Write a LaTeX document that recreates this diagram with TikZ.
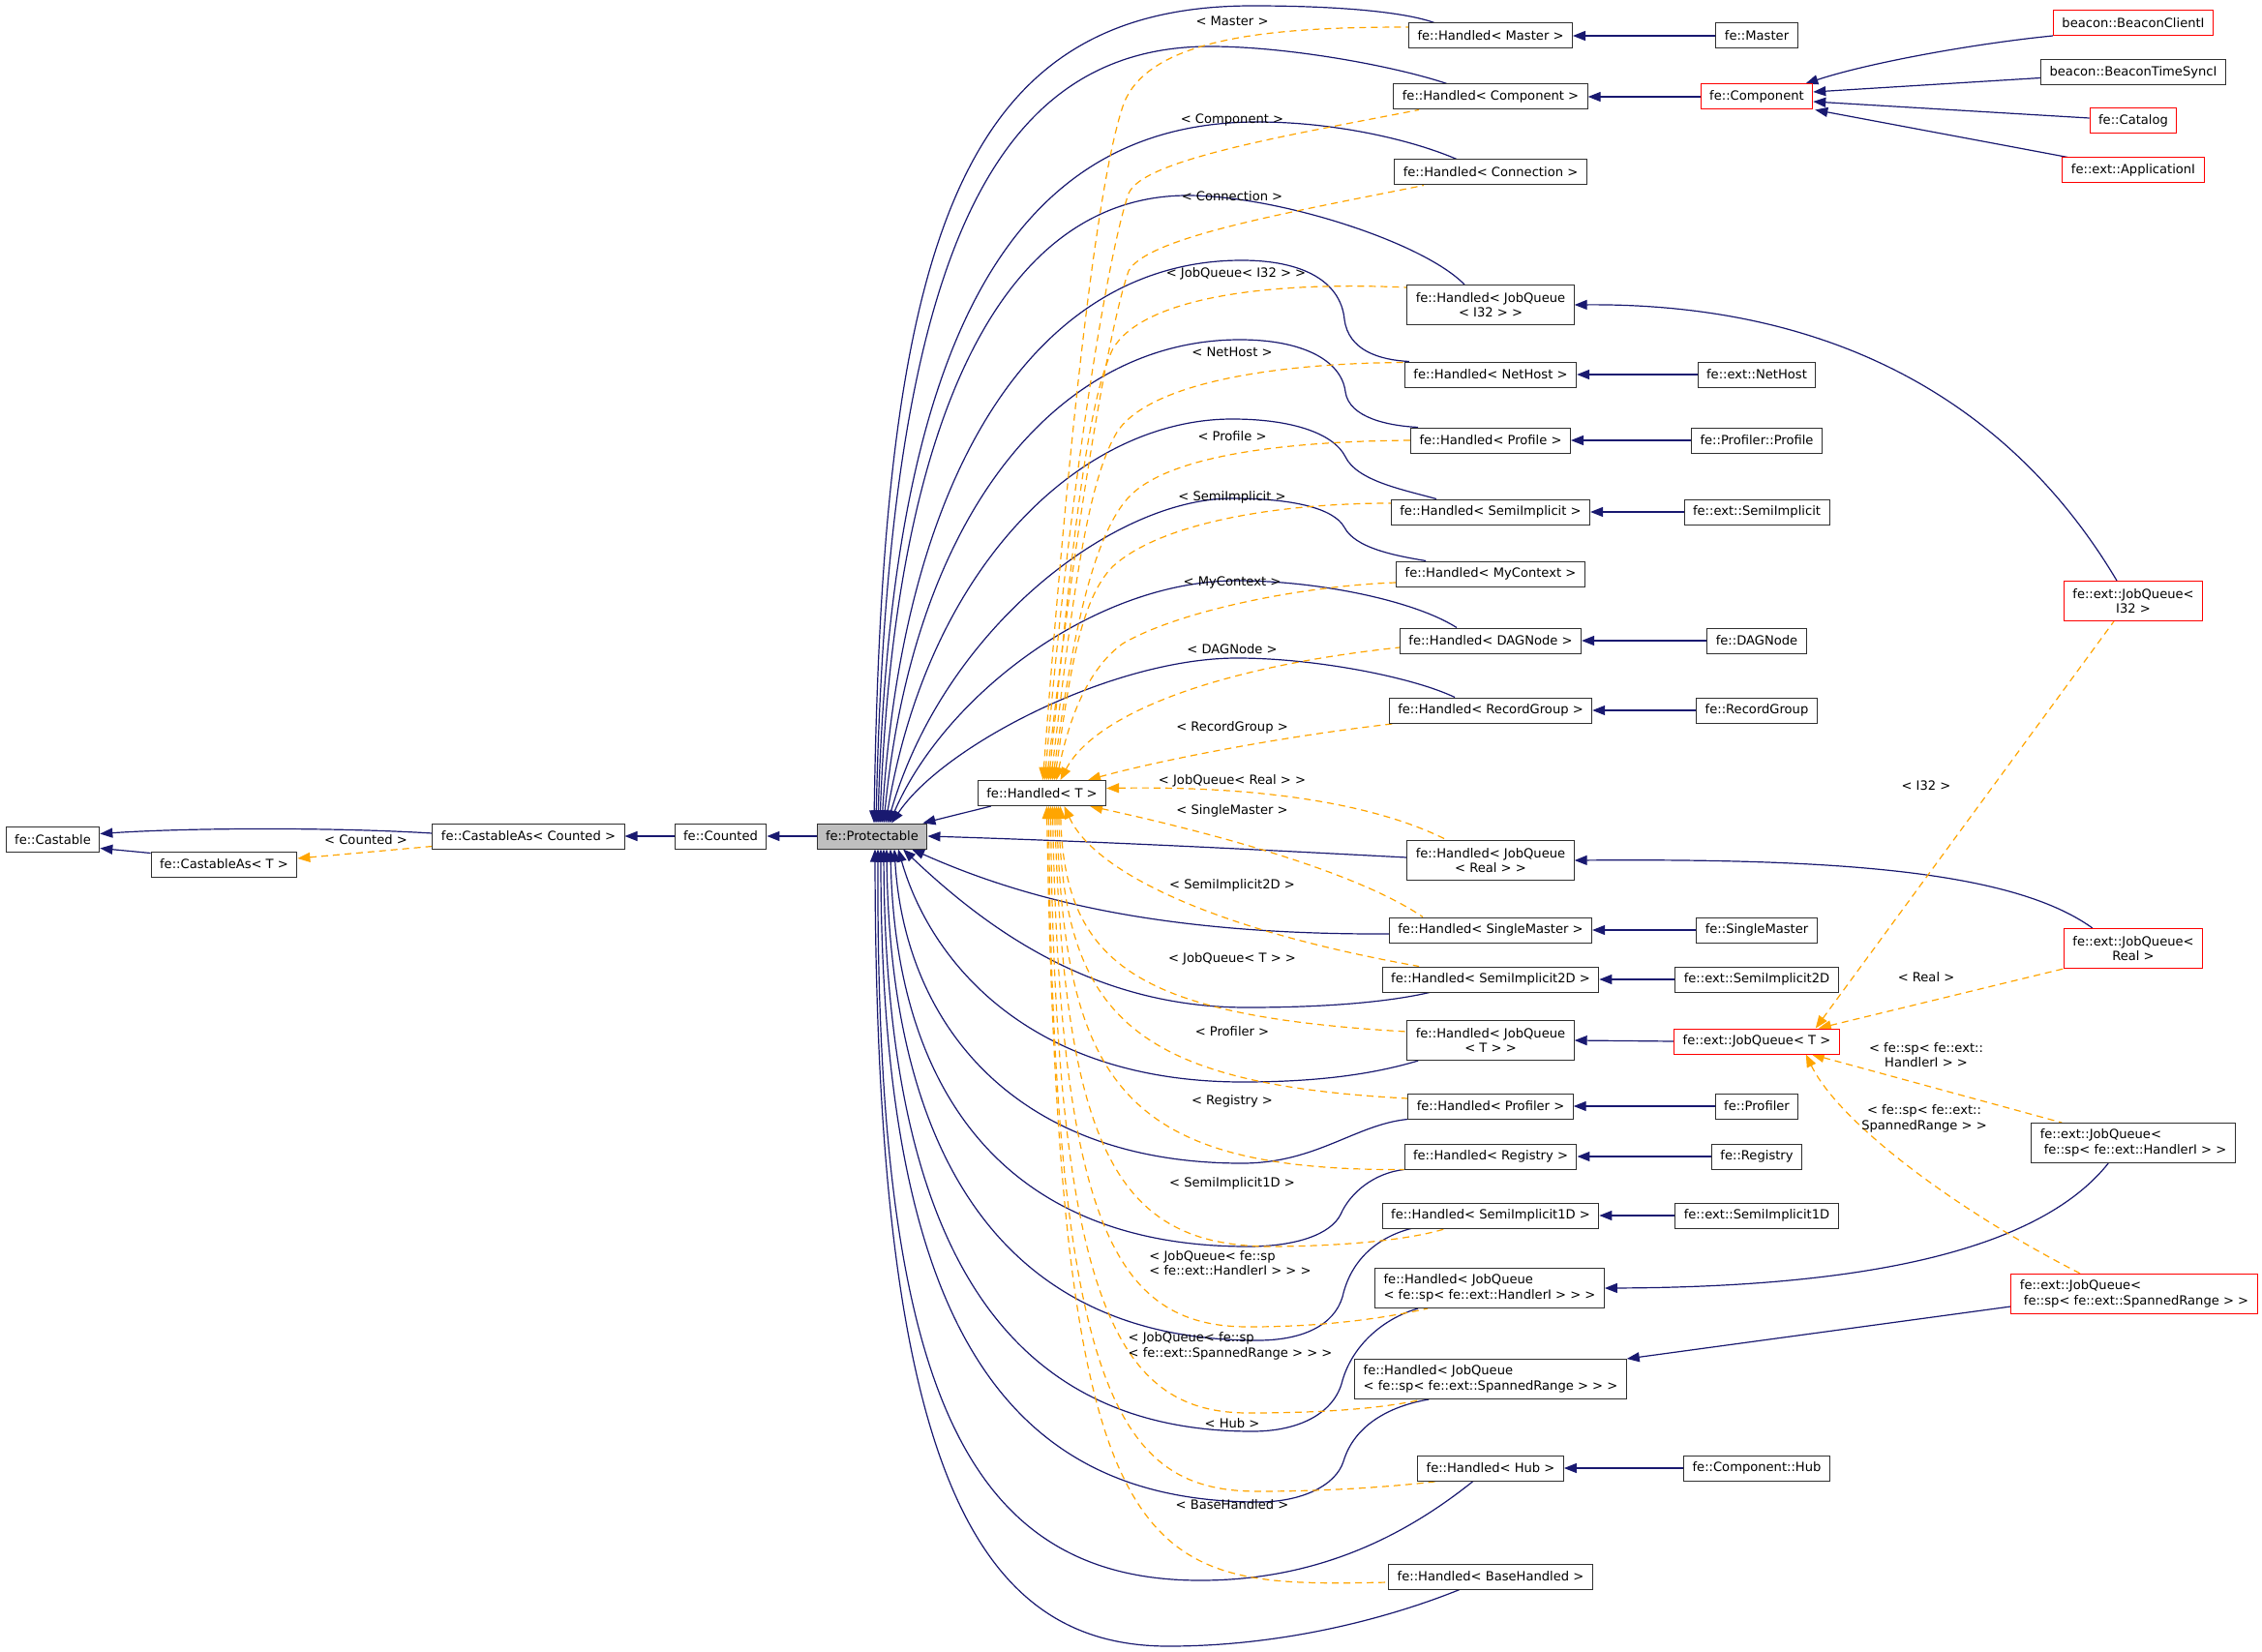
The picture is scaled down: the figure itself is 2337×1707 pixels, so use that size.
\documentclass[tikz,border=0pt]{standalone}
\usepackage{fontspec}
\setmainfont{DejaVu Sans}
\usetikzlibrary{arrows.meta}
\definecolor{edgeblue}{HTML}{191970}
\definecolor{tmplorange}{HTML}{FFA500}
\definecolor{protgray}{HTML}{BFBFBF}
\definecolor{boxred}{HTML}{FF0000}
\definecolor{boxline}{HTML}{303030}
\newcommand{\dgfont}{\fontsize{13.1pt}{15.5pt}\selectfont}
\pgfdeclarelayer{bg}
\pgfdeclarelayer{edges}
\pgfsetlayers{bg,edges,main}
\tikzset{
  box/.style={draw=boxline, line width=1pt, fill=white, font=\dgfont, inner xsep=9pt, inner ysep=2pt, minimum height=26pt},
  box2/.style={box, minimum height=41pt},
  redbox/.style={draw=boxred},
  inh/.style={draw=edgeblue, line width=1.2pt, arrows={Triangle[length=13pt,width=10pt]-}},
  tmpl/.style={draw=tmplorange, line width=1.2pt, dash pattern=on 7pt off 5pt, arrows={Triangle[length=13pt,width=10pt]-}},
  lbl/.style={font=\dgfont, inner sep=0pt},
}
\begin{document}
\begin{tikzpicture}[x=1pt,y=-1pt]
\useasboundingbox (0,0) rectangle (2337,1707);
\begin{pgfonlayer}{bg}
\fill[white] (0,0) rectangle (2337,1707);
\end{pgfonlayer}

% ---------------- left chain
\node[box] (castable) at (54.5,867.5) {fe::Castable};
\node[box] (castT) at (231.5,893) {fe::CastableAs< T >};
\node[box] (castC) at (546,864) {fe::CastableAs< Counted >};
\node[box] (counted) at (744.5,864) {fe::Counted};
\node[box,fill=protgray] (prot) at (901,864) {fe::Protectable};
\node[box] (ht) at (1076.5,819.5) {fe::Handled< T >};

% ---------------- column A
\node[box] (hMaster) at (1540,37) {fe::Handled< Master >};
\node[box] (hComponent) at (1540,100) {fe::Handled< Component >};
\node[box] (hConnection) at (1540,178) {fe::Handled< Connection >};
\node[box2,align=center] (hJQI32) at (1540,315) {fe::Handled< JobQueue\\< I32 > >};
\node[box] (hNetHost) at (1540,387) {fe::Handled< NetHost >};
\node[box] (hProfile) at (1540,455) {fe::Handled< Profile >};
\node[box] (hSemiImplicit) at (1540,529) {fe::Handled< SemiImplicit >};
\node[box] (hMyContext) at (1540,593) {fe::Handled< MyContext >};
\node[box] (hDAGNode) at (1540,662) {fe::Handled< DAGNode >};
\node[box] (hRecordGroup) at (1540,734) {fe::Handled< RecordGroup >};
\node[box2,align=center] (hJQReal) at (1540,889) {fe::Handled< JobQueue\\< Real > >};
\node[box] (hSingleMaster) at (1540,961) {fe::Handled< SingleMaster >};
\node[box] (hSemiImplicit2D) at (1540,1012) {fe::Handled< SemiImplicit2D >};
\node[box2,align=center] (hJQT) at (1540,1075) {fe::Handled< JobQueue\\< T > >};
\node[box] (hProfiler) at (1540,1143) {fe::Handled< Profiler >};
\node[box] (hRegistry) at (1540,1195) {fe::Handled< Registry >};
\node[box] (hSemiImplicit1D) at (1540,1256) {fe::Handled< SemiImplicit1D >};
\node[box2,align=left] (hJQHandlerI) at (1539,1331) {fe::Handled< JobQueue\\< fe::sp< fe::ext::HandlerI > > >};
\node[box2,align=left] (hJQSpanned) at (1540,1425) {fe::Handled< JobQueue\\< fe::sp< fe::ext::SpannedRange > > >};
\node[box] (hHub) at (1540,1517) {fe::Handled< Hub >};
\node[box] (hBaseHandled) at (1540,1629) {fe::Handled< BaseHandled >};

% ---------------- column B
\node[box] (bMaster) at (1815,37) {fe::Master};
\node[box,redbox] (bComponent) at (1815,100) {fe::Component};
\node[box] (bNetHost) at (1815,387) {fe::ext::NetHost};
\node[box] (bProfile) at (1815,455) {fe::Profiler::Profile};
\node[box] (bSemiImplicit) at (1815,529) {fe::ext::SemiImplicit};
\node[box] (bDAGNode) at (1815,662) {fe::DAGNode};
\node[box] (bRecordGroup) at (1815,734) {fe::RecordGroup};
\node[box] (bSingleMaster) at (1815,961) {fe::SingleMaster};
\node[box] (bSemiImplicit2D) at (1815,1012) {fe::ext::SemiImplicit2D};
\node[box,redbox] (bJQT) at (1815,1076) {fe::ext::JobQueue< T >};
\node[box] (bProfiler) at (1815,1143) {fe::Profiler};
\node[box] (bRegistry) at (1815,1195) {fe::Registry};
\node[box] (bSemiImplicit1D) at (1815,1256) {fe::ext::SemiImplicit1D};
\node[box] (bHub) at (1815,1517) {fe::Component::Hub};

% ---------------- column C
\node[box,redbox] (cClient) at (2204,23.5) {beacon::BeaconClientI};
\node[box] (cTimeSync) at (2204,74.5) {beacon::BeaconTimeSyncI};
\node[box,redbox] (cCatalog) at (2204,125) {fe::Catalog};
\node[box,redbox] (cApp) at (2204,176) {fe::ext::ApplicationI};
\node[box2,redbox,align=center] (cJQI32) at (2204,621) {fe::ext::JobQueue<\\I32 >};
\node[box2,redbox,align=center] (cJQReal) at (2204,980) {fe::ext::JobQueue<\\Real >};
\node[box2,align=left] (cJQHandlerI) at (2204,1181) {fe::ext::JobQueue<\\\hspace*{4pt}fe::sp< fe::ext::HandlerI > >};
\node[box2,redbox,align=left] (cJQSpanned) at (2205,1337) {fe::ext::JobQueue<\\\hspace*{4pt}fe::sp< fe::ext::SpannedRange > >};

% ---------------- edge labels
\node[lbl] (lCounted) at (378,868) {< Counted >};
\node[lbl] (lMaster) at (1273,22) {< Master >};
\node[lbl] (lComponent) at (1273,124) {< Component >};
\node[lbl] (lConnection) at (1273,203) {< Connection >};
\node[lbl] (lJQI32) at (1277,283) {< JobQueue< I32 > >};
\node[lbl] (lNetHost) at (1273,364) {< NetHost >};
\node[lbl] (lProfile) at (1273,451) {< Profile >};
\node[lbl] (lSemiImplicit) at (1273,514) {< SemiImplicit >};
\node[lbl] (lMyContext) at (1273,602) {< MyContext >};
\node[lbl] (lDAGNode) at (1273,671) {< DAGNode >};
\node[lbl] (lRecordGroup) at (1273,752) {< RecordGroup >};
\node[lbl] (lJQReal) at (1273,807) {< JobQueue< Real > >};
\node[lbl] (lSingleMaster) at (1273,838) {< SingleMaster >};
\node[lbl] (lSemiImplicit2D) at (1273,915) {< SemiImplicit2D >};
\node[lbl] (lJQT) at (1273,991) {< JobQueue< T > >};
\node[lbl] (lProfiler) at (1273,1066) {< Profiler >};
\node[lbl] (lRegistry) at (1273,1138) {< Registry >};
\node[lbl] (lSemiImplicit1D) at (1273,1223) {< SemiImplicit1D >};
\node[lbl,align=left] (lHandlerI) at (1271,1305) {< JobQueue< fe::sp\\< fe::ext::HandlerI > > >};
\node[lbl,align=left] (lSpanned) at (1271,1391) {< JobQueue< fe::sp\\< fe::ext::SpannedRange > > >};
\node[lbl] (lHub) at (1273,1471) {< Hub >};
\node[lbl] (lBaseHandled) at (1273,1555) {< BaseHandled >};
\node[lbl] (lI32) at (1990,812) {< I32 >};
\node[lbl] (lReal) at (1990,1010) {< Real >};
\node[lbl,align=center] (lHandlerI2) at (1990,1090) {< fe::sp< fe::ext::\\HandlerI > >};
\node[lbl,align=center] (lSpanned2) at (1988,1156) {< fe::sp< fe::ext::\\SpannedRange > >};

\begin{pgfonlayer}{edges}
% left chain
\draw[inh] ([yshift=6pt]castable.east) .. controls (200,855) and (350,855) .. ([yshift=3pt]castC.west);
\draw[inh] ([yshift=-9pt]castable.east) -- ([yshift=-2pt]castT.north west);
\draw[tmpl] ([yshift=6pt]castT.east) -- ([yshift=3pt]castC.south west);
\draw[inh] (castC.east) -- (counted.west);
\draw[inh] (counted.east) -- (prot.west);
\draw[inh] ([xshift=-5pt]prot.north east) -- ([xshift=14pt]ht.south west);

% Protectable -> column A (upper)
\draw[inh] ([xshift=2pt]prot.north) .. controls (912,250) and (990,6) .. (1294,6) .. controls (1380,6) and (1450,12) .. ([xshift=-58pt]hMaster.north);
\draw[inh] ([xshift=4pt]prot.north) .. controls (917,300) and (1010,48) .. (1250,48) .. controls (1330,48) and (1440,68) .. ([xshift=-45pt]hComponent.north);
\draw[inh] ([xshift=6pt]prot.north) .. controls (920,380) and (1030,126) .. (1299,126) .. controls (1380,126) and (1460,145) .. ([xshift=-35pt]hConnection.north);
\draw[inh] ([xshift=8pt]prot.north) .. controls (925,420) and (1040,202) .. (1227,202) .. controls (1320,202) and (1470,250) .. ([xshift=-27pt]hJQI32.north);
\draw[inh] ([xshift=10pt]prot.north) .. controls (935,470) and (1080,269) .. (1283,269) .. controls (1345,269) and (1385,290) .. (1389,330) .. controls (1393,362) and (1425,372) .. ([xshift=5pt]hNetHost.north west);
\draw[inh] ([xshift=12pt]prot.north) .. controls (945,520) and (1100,351) .. (1281,351) .. controls (1345,351) and (1386,372) .. (1390,405) .. controls (1394,432) and (1435,440) .. ([xshift=8pt]hProfile.north west);
\draw[inh] ([xshift=14pt]prot.north) .. controls (960,580) and (1120,433) .. (1273,433) .. controls (1335,433) and (1378,448) .. (1390,472) .. controls (1402,497) and (1450,506) .. ([xshift=47pt]hSemiImplicit.north west);
\draw[inh] ([xshift=16pt]prot.north) .. controls (975,650) and (1150,515) .. (1273,515) .. controls (1335,515) and (1378,525) .. (1389,545) .. controls (1400,566) and (1440,574) .. ([xshift=31pt]hMyContext.north west);
\draw[inh] ([xshift=18pt]prot.north) .. controls (975,720) and (1130,600) .. (1278,600) .. controls (1360,600) and (1460,620) .. ([xshift=-35pt]hDAGNode.north);
\draw[inh] ([xshift=20pt]prot.north) .. controls (975,770) and (1150,680) .. (1278,680) .. controls (1360,680) and (1460,700) .. ([xshift=-37pt]hRecordGroup.north);
% middle
\draw[inh] (prot.east) .. controls (1150,870) and (1300,878) .. ([yshift=3pt]hJQReal.west);
% lower
\draw[inh] ([xshift=41pt]prot.south) .. controls (1060,930) and (1200,966) .. ([yshift=-4pt]hSingleMaster.west);
\draw[inh] ([xshift=32pt]prot.south) .. controls (1020,960) and (1130,1041) .. (1288,1041) .. controls (1380,1041) and (1440,1034) .. ([xshift=-63pt]hSemiImplicit2D.south);
\draw[inh] ([xshift=27pt]prot.south) .. controls (960,990) and (1060,1118) .. (1284,1118) .. controls (1370,1118) and (1425,1108) .. ([xshift=12pt]hJQT.south west);
\draw[inh] ([xshift=23pt]prot.south) .. controls (935,1060) and (1050,1202) .. (1283,1202) .. controls (1360,1202) and (1400,1162) .. (hProfiler.south west);
\draw[inh] ([xshift=19pt]prot.south) .. controls (925,1130) and (1040,1288) .. (1289,1288) .. controls (1340,1288) and (1375,1275) .. (1385,1255) .. controls (1395,1232) and (1420,1212) .. (hRegistry.south west);
\draw[inh] ([xshift=15pt]prot.south) .. controls (920,1200) and (1040,1385) .. (1299,1385) .. controls (1345,1385) and (1378,1370) .. (1387,1340) .. controls (1396,1300) and (1425,1278) .. ([xshift=30pt]hSemiImplicit1D.south west);
\draw[inh] ([xshift=12pt]prot.south) .. controls (915,1290) and (1040,1479) .. (1294,1479) .. controls (1340,1479) and (1376,1462) .. (1386,1430) .. controls (1396,1390) and (1430,1362) .. ([xshift=45pt]hJQHandlerI.south west);
\draw[inh] ([xshift=9pt]prot.south) .. controls (910,1370) and (1040,1552) .. (1300,1552) .. controls (1345,1552) and (1380,1535) .. (1388,1510) .. controls (1400,1470) and (1440,1452) .. ([xshift=77pt]hJQSpanned.south west);
\draw[inh] ([xshift=6pt]prot.south) .. controls (905,1420) and (990,1633) .. (1240,1633) .. controls (1370,1633) and (1460,1580) .. ([xshift=-18pt]hHub.south);
\draw[inh] ([xshift=3pt]prot.south) .. controls (905,1500) and (1000,1701) .. (1207,1701) .. controls (1330,1701) and (1440,1670) .. ([xshift=-32pt]hBaseHandled.south);

% Handled<T> <- column A (template instances)
\draw[tmpl] ([xshift=1pt]ht.north) .. controls (1100,500) and (1130,200) .. (1160,110) .. controls (1185,35) and (1330,28) .. ([yshift=9pt]hMaster.west);
\draw[tmpl] ([xshift=3pt]ht.north) .. controls (1105,500) and (1145,260) .. (1166,200) .. controls (1180,165) and (1330,140) .. ([xshift=-74pt]hComponent.south);
\draw[tmpl] ([xshift=5pt]ht.north) .. controls (1110,550) and (1145,340) .. (1166,280) .. controls (1185,245) and (1330,220) .. ([xshift=-69pt]hConnection.south);
\draw[tmpl] ([xshift=7pt]ht.north) .. controls (1105,600) and (1120,420) .. (1150,360) .. controls (1180,310) and (1300,290) .. ([yshift=18pt]hJQI32.west);
\draw[tmpl] ([xshift=9pt]ht.north) .. controls (1105,650) and (1120,500) .. (1155,445) .. controls (1190,395) and (1320,375) .. ([xshift=3pt,yshift=-1pt]hNetHost.north west);
\draw[tmpl] ([xshift=11pt]ht.north) .. controls (1105,680) and (1125,560) .. (1165,515) .. controls (1205,470) and (1330,456) .. (hProfile.west);
\draw[tmpl] ([xshift=13pt]ht.north) .. controls (1105,700) and (1115,620) .. (1150,585) .. controls (1200,540) and (1320,520) .. ([yshift=9pt]hSemiImplicit.west);
\draw[tmpl] ([xshift=15pt]ht.north) .. controls (1105,740) and (1125,690) .. (1160,665) .. controls (1220,630) and (1350,605) .. ([yshift=-9pt]hMyContext.west);
\draw[tmpl] ([xshift=19pt]ht.north) .. controls (1130,740) and (1250,690) .. ([yshift=-7pt]hDAGNode.west);
\draw[tmpl] ([xshift=-19pt]ht.north east) .. controls (1200,785) and (1330,760) .. ([xshift=8pt]hRecordGroup.south west);
\draw[tmpl] ([yshift=5pt]ht.east) .. controls (1300,812) and (1420,830) .. ([xshift=-45pt]hJQReal.north);
\draw[tmpl] ([xshift=-17pt]ht.south east) .. controls (1250,860) and (1400,900) .. ([xshift=-70pt]hSingleMaster.north);
\draw[tmpl] ([xshift=23pt]ht.south) .. controls (1130,900) and (1250,960) .. ([xshift=-74pt]hSemiImplicit2D.north);
\draw[tmpl] ([xshift=19pt]ht.south) .. controls (1100,1000) and (1180,1050) .. ([yshift=9pt]hJQT.west);
\draw[tmpl] ([xshift=17pt]ht.south) .. controls (1100,1050) and (1170,1120) .. ([yshift=8pt]hProfiler.west);
\draw[tmpl] ([xshift=15pt]ht.south) .. controls (1100,1120) and (1160,1210) .. (hRegistry.south west);
\draw[tmpl] ([xshift=13pt]ht.south) .. controls (1100,1200) and (1160,1290) .. (1320,1288) .. controls (1400,1287) and (1460,1280) .. ([xshift=66pt]hSemiImplicit1D.south west);
\draw[tmpl] ([xshift=11pt]ht.south) .. controls (1095,1280) and (1160,1371) .. (1290,1371) .. controls (1370,1371) and (1430,1362) .. ([xshift=55pt]hJQHandlerI.south west);
\draw[tmpl] ([xshift=9pt]ht.south) .. controls (1090,1360) and (1160,1460) .. (1290,1460) .. controls (1370,1460) and (1430,1455) .. ([xshift=70pt]hJQSpanned.south west);
\draw[tmpl] ([xshift=7pt]ht.south) .. controls (1088,1450) and (1160,1541) .. (1300,1541) .. controls (1380,1541) and (1450,1535) .. ([xshift=22pt]hHub.south west);
\draw[tmpl] ([xshift=5pt]ht.south) .. controls (1095,1640) and (1180,1640) .. ([yshift=-6pt]hBaseHandled.west);

% column A <- column B
\draw[inh] (hMaster.east) -- (bMaster.west);
\draw[inh] (hComponent.east) -- (bComponent.west);
\draw[inh] (hNetHost.east) -- (bNetHost.west);
\draw[inh] (hProfile.east) -- (bProfile.west);
\draw[inh] (hSemiImplicit.east) -- (bSemiImplicit.west);
\draw[inh] (hDAGNode.east) -- (bDAGNode.west);
\draw[inh] (hRecordGroup.east) -- (bRecordGroup.west);
\draw[inh] (hSingleMaster.east) -- (bSingleMaster.west);
\draw[inh] (hSemiImplicit2D.east) -- (bSemiImplicit2D.west);
\draw[inh] (hJQT.east) -- (bJQT.west);
\draw[inh] (hProfiler.east) -- (bProfiler.west);
\draw[inh] (hRegistry.east) -- (bRegistry.west);
\draw[inh] (hSemiImplicit1D.east) -- (bSemiImplicit1D.west);
\draw[inh] (hHub.east) -- (bHub.west);

% column A <- column C
\draw[inh] (hJQI32.east) .. controls (1900,313) and (2080,420) .. ([xshift=-17pt]cJQI32.north);
\draw[inh] (hJQReal.east) .. controls (1900,887) and (2080,900) .. ([xshift=30pt]cJQReal.north west);
\draw[inh] (hJQHandlerI.east) .. controls (1900,1330) and (2100,1300) .. ([xshift=80pt]cJQHandlerI.south west);
\draw[inh] (hJQSpanned.north east) -- ([yshift=-13pt]cJQSpanned.west);

% fe::Component <- column C
\draw[inh] ([xshift=-8pt]bComponent.north east) .. controls (1930,65) and (2040,45) .. (cClient.south west);
\draw[inh] ([yshift=5pt]bComponent.east) -- ([yshift=-6pt]cTimeSync.west);
\draw[inh] ([yshift=-5pt]bComponent.east) -- ([yshift=3pt]cCatalog.west);
\draw[inh] ([xshift=2pt]bComponent.south east) -- ([xshift=6pt]cApp.north west);

% fe::ext::JobQueue<T> <- instances
\draw[tmpl] ([xshift=-25pt]bJQT.north east) -- ([xshift=-20pt]cJQI32.south);
\draw[tmpl] ([xshift=-22pt]bJQT.north east) -- (cJQReal.south west);
\draw[tmpl] ([xshift=-29pt]bJQT.south east) -- ([xshift=32pt]cJQHandlerI.north west);
\draw[tmpl] ([xshift=-35pt]bJQT.south east) .. controls (1900,1160) and (2020,1250) .. ([xshift=72pt]cJQSpanned.north west);
\end{pgfonlayer}
\end{tikzpicture}
\end{document}
